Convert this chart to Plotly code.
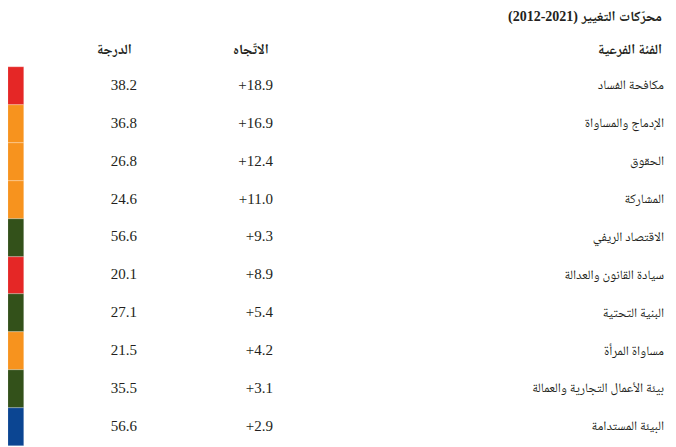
import plotly.graph_objects as go

# --- data ---
title = "(2012-2021) محرّكات التغيير"
headers = ["الفئة الفرعية", "الاتّجاه", "الدرجة"]
categories = [
    "مكافحة الفساد",
    "الإدماج والمساواة",
    "الحقوق",
    "المشاركة",
    "الاقتصاد الريفي",
    "سيادة القانون والعدالة",
    "البنية التحتية",
    "مساواة المرأة",
    "بيئة الأعمال التجارية والعمالة",
    "البيئة المستدامة",
]
trend = [18.9, 16.9, 12.4, 11.0, 9.3, 8.9, 5.4, 4.2, 3.1, 2.9]
score = [38.2, 36.8, 26.8, 24.6, 56.6, 20.1, 27.1, 21.5, 35.5, 56.6]
colors = ["#e52726", "#f7931e", "#f7931e", "#f7931e", "#33511a",
          "#e52726", "#33511a", "#f7931e", "#33511a", "#0b4592"]

# the page body shifts the plot 8px right and down
W, H = 676, 447
rows = list(range(len(categories)))
row_px = 37.87
top_px = 78.2

ar_family = "Noto Naskh Arabic, Noto Sans Arabic, DejaVu Sans, sans-serif"
num_font = dict(family="Liberation Serif, Times New Roman, serif", size=15, color="#231f20")
ar_font = dict(family=ar_family, size=13, color="#231f20")
# headings: serif digits, arabic falls through to the arabic fonts
bold = dict(family="Liberation Serif, " + ar_family, size=14, color="#231f20")

# arabic glyphs paint a little right of their anchor, so anchor them further left
ar_right = 656

fig = go.Figure()

# colour strip
fig.add_trace(go.Bar(
    x=[1] * len(rows), y=rows, orientation="h", width=1,
    marker=dict(color=colors, line=dict(color="rgba(255,255,255,0.5)", width=0.5)),
    xaxis="x2", yaxis="y", showlegend=False, hoverinfo="skip",
))

# score column
fig.add_trace(go.Scatter(
    x=[129] * len(rows), y=rows, mode="text",
    text=[f"{v:.1f}" for v in score], textposition="middle left",
    textfont=num_font, showlegend=False, hoverinfo="skip",
))
# trend column
fig.add_trace(go.Scatter(
    x=[265] * len(rows), y=rows, mode="text",
    text=[f"+{v:.1f}" for v in trend], textposition="middle left",
    textfont=num_font, showlegend=False, hoverinfo="skip",
))
# category column
fig.add_trace(go.Scatter(
    x=[ar_right] * len(rows), y=rows, mode="text",
    text=categories, textposition="middle left",
    textfont=ar_font, showlegend=False, hoverinfo="skip",
))

fig.add_annotation(text=f"<b>{title}</b>", x=ar_right, y=1 - 9 / H, xref="x", yref="paper",
                   xanchor="right", yanchor="middle", showarrow=False, font=bold)
for hx, label in zip([ar_right, 263, 126], headers):
    fig.add_annotation(text=f"<b>{label}</b>", x=hx, y=1 - 42 / H, xref="x", yref="paper",
                       xanchor="right", yanchor="middle", showarrow=False, font=bold)

fig.update_layout(
    width=W, height=H,
    margin=dict(l=0, r=0, t=0, b=0),
    paper_bgcolor="white", plot_bgcolor="white",
    xaxis=dict(range=[0, W], visible=False, fixedrange=True),
    xaxis2=dict(domain=[0, 16 / W], range=[0, 1], visible=False, anchor="y"),
    yaxis=dict(range=[(H - top_px) / row_px, -top_px / row_px], visible=False),
    bargap=0,
)

fig.write_html("out.html")
